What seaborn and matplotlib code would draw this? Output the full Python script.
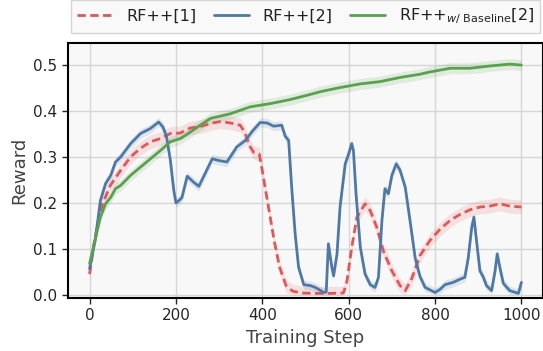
import numpy as np
import pandas as pd
import matplotlib
matplotlib.use("Agg")
import matplotlib.pyplot as plt
import seaborn as sns

# RF++[1]
red_steps = [0, 10, 20, 30, 48, 72, 95, 118, 141, 164, 187, 210, 233, 256, 280, 303,
             326, 349, 360, 370, 380, 393, 399, 408, 418, 428, 440, 455, 470, 490,
             520, 560, 588, 596, 607, 619, 638, 650, 665, 680, 700, 719, 731, 746,
             765, 788, 812, 835, 858, 881, 904, 927, 950, 973, 1000]
red_vals = [0.045, 0.11, 0.16, 0.198, 0.238, 0.271, 0.300, 0.319, 0.333, 0.340, 0.351,
            0.352, 0.363, 0.366, 0.373, 0.377, 0.374, 0.369, 0.352, 0.325, 0.310, 0.306,
            0.275, 0.225, 0.170, 0.115, 0.060, 0.020, 0.008, 0.004, 0.003, 0.003, 0.004,
            0.030, 0.103, 0.169, 0.198, 0.183, 0.147, 0.096, 0.052, 0.020, 0.009, 0.035,
            0.085, 0.118, 0.143, 0.162, 0.175, 0.185, 0.191, 0.193, 0.198, 0.193, 0.191]

# RF++[2]
blue_steps = [0, 14, 25, 37, 49, 60, 72, 95, 118, 141, 160, 170, 178, 187, 195, 200,
              207, 214, 226, 241, 253, 268, 284, 300, 318, 341, 361, 376, 395, 411,
              426, 445, 453, 461, 468, 476, 484, 496, 511, 523, 542, 548, 553, 561,
              565, 573, 580, 592, 600, 607, 611, 617, 627, 638, 650, 661, 669, 677,
              684, 692, 700, 710, 719, 731, 742, 754, 765, 777, 800, 812, 823, 842,
              858, 869, 877, 885, 890, 896, 904, 912, 919, 931, 939, 944, 950, 958,
              973, 993, 1000]
blue_vals = [0.057, 0.125, 0.205, 0.242, 0.260, 0.289, 0.300, 0.329, 0.351, 0.362,
             0.376, 0.365, 0.345, 0.293, 0.227, 0.200, 0.205, 0.212, 0.258, 0.245,
             0.236, 0.265, 0.296, 0.292, 0.289, 0.322, 0.336, 0.355, 0.375, 0.374,
             0.367, 0.369, 0.345, 0.336, 0.234, 0.133, 0.060, 0.022, 0.020, 0.016,
             0.005, 0.006, 0.111, 0.060, 0.041, 0.089, 0.191, 0.285, 0.307, 0.329,
             0.314, 0.220, 0.103, 0.045, 0.022, 0.016, 0.038, 0.162, 0.231, 0.220,
             0.260, 0.285, 0.271, 0.234, 0.162, 0.080, 0.040, 0.016, 0.005, 0.012,
             0.022, 0.027, 0.034, 0.038, 0.081, 0.147, 0.169, 0.118, 0.052, 0.038,
             0.020, 0.009, 0.052, 0.089, 0.060, 0.025, 0.009, 0.003, 0.027]

# RF++ w/ Baseline [2]
green_steps = [0, 14, 25, 37, 49, 60, 72, 95, 118, 141, 164, 187, 210, 233, 253, 280,
               326, 372, 418, 465, 511, 534, 580, 627, 673, 719, 765, 788, 835, 881,
               927, 973, 1000]
green_vals = [0.068, 0.125, 0.169, 0.198, 0.212, 0.231, 0.238, 0.260, 0.278, 0.296,
              0.314, 0.333, 0.340, 0.354, 0.367, 0.384, 0.394, 0.409, 0.416, 0.425,
              0.436, 0.442, 0.451, 0.459, 0.464, 0.473, 0.480, 0.485, 0.493, 0.493,
              0.498, 0.502, 0.500]

# half-width of the shaded band per series
spreads = {"red": 0.015, "blue": 0.010, "green": 0.012}

labels = ["RF++[1]", "RF++[2]", r"RF++$_{w/\ \mathrm{Baseline}}$[2]"]
colors = {"red": "#e15759", "blue": "#4e79a7", "green": "#59a14f"}

sns.set_theme(style="ticks")
plt.rcParams["font.family"] = ["DejaVu Sans"]

fig = plt.figure(figsize=(5.43, 3.51), dpi=100)
ax = fig.add_axes([68 / 543, 53 / 351, 475 / 543, 255 / 351])
ax.set_facecolor("#f8f8f8")
ax.grid(True, color="#d6d6d6", linewidth=1.0)
ax.set_axisbelow(True)

series = [
    ("red", red_steps, red_vals, labels[0], (3, 1.6)),
    ("blue", blue_steps, blue_vals, labels[1], None),
    ("green", green_steps, green_vals, labels[2], None),
]
for key, steps, vals, label, dash in series:
    df = pd.DataFrame({"step": steps, "reward": vals})
    lo = np.clip(df["reward"] - spreads[key], 0, None)
    hi = df["reward"] + spreads[key]
    ax.fill_between(df["step"], lo, hi, color=colors[key], alpha=0.15, linewidth=0)
    kw = {"dashes": dash} if dash else {}
    sns.lineplot(data=df, x="step", y="reward", ax=ax, color=colors[key],
                 linewidth=2, label=label, **kw)

ax.set_xlim(-50, 1050)
ax.set_ylim(-0.007, 0.548)
ax.set_xticks([0, 200, 400, 600, 800, 1000])
ax.set_yticks([0.0, 0.1, 0.2, 0.3, 0.4, 0.5])
ax.set_xlabel("Training Step", fontsize=13, color="#444444")
ax.set_ylabel("Reward", fontsize=13, color="#444444")
ax.tick_params(labelsize=11, length=4, width=1)
for s in ax.spines.values():
    s.set_color("black")
    s.set_linewidth(1.5)

leg = ax.legend(loc="upper center", bbox_to_anchor=(0.5, 1.169), borderaxespad=0,
                ncol=3, fontsize=11.5, frameon=True, fancybox=False,
                handlelength=2.2, handletextpad=0.85, columnspacing=1.1)
leg.get_frame().set_edgecolor("#cccccc")
leg.get_frame().set_facecolor("#f8f8f8")
for t in leg.get_texts():
    t.set_color("#222222")

fig.savefig("out.png", dpi=100)
